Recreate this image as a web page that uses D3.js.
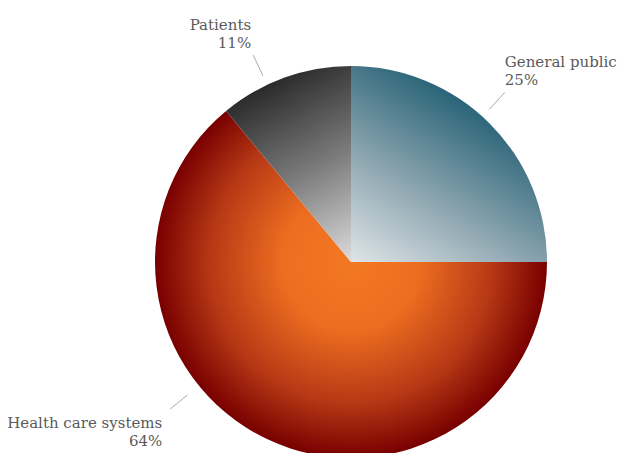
<!DOCTYPE html>
<html>
<head>
<meta charset="utf-8">
<script src="https://cdn.jsdelivr.net/npm/d3@7"></script>
<style>
  html, body { margin: 0; padding: 0; background: #fff; }
  svg text { font-family: "DejaVu Serif", serif; }
</style>
</head>
<body>
<svg id="chart" width="619" height="453"></svg>
<script>
const categories = ["General public", "Health care systems", "Patients"];
const shares = [25, 64, 11];

const width = 619;
const height = 453;
const cx = 351, cy = 262, radius = 196;

const svg = d3.select("#chart");
const defs = svg.append("defs");

// gradients: linear for the two small slices, radial for the big one
const gradSpecs = [
  { type: "linear", dir: 58, stops: [[0, "#dfe5e8"], [0.45, "#93aab4"], [1, "#2a6478"]] },
  { type: "radial", stops: [[0, "#f47823"], [0.35, "#ed6d20"], [0.72, "#b63815"], [1, "#780000"]] },
  { type: "linear", dir: 118, stops: [[0, "#dcdcdc"], [0.5, "#7d7d7d"], [1, "#2b2b2b"]] }
];

gradSpecs.forEach((s, i) => {
  let grad;
  if (s.type === "radial") {
    grad = defs.append("radialGradient")
      .attr("id", "g" + i)
      .attr("gradientUnits", "userSpaceOnUse")
      .attr("cx", 0).attr("cy", 0).attr("r", radius);
  } else {
    const a = s.dir * Math.PI / 180;
    grad = defs.append("linearGradient")
      .attr("id", "g" + i)
      .attr("gradientUnits", "userSpaceOnUse")
      .attr("x1", 0).attr("y1", 0)
      .attr("x2", radius * Math.cos(a)).attr("y2", -radius * Math.sin(a));
  }
  s.stops.forEach(st => grad.append("stop").attr("offset", st[0]).attr("stop-color", st[1]));
});

const pie = d3.pie().sort(null).value(d => d)(shares);
const arc = d3.arc().innerRadius(0).outerRadius(radius);

const g = svg.append("g").attr("transform", `translate(${cx},${cy})`);

g.selectAll("path.slice")
  .data(pie)
  .join("path")
  .attr("class", "slice")
  .attr("d", arc)
  .attr("fill", (d, i) => `url(#g${i})`);

// labels with connector lines
const r1 = radius + 10, r2 = radius + 33;
const bottomLimit = height - 44 - cy;
// small angular nudges (degrees) so labels sit clear of each other / the edge
const labelNudge = [-2.8, 0, -5.5];

pie.forEach((d, i) => {
  let a = (d.startAngle + d.endAngle) / 2 + labelNudge[i] * Math.PI / 180;
  let rr1 = r1, rr2 = r2;
  // push labels that would fall off the bottom up along the circle
  if (-Math.cos(a) * r2 > bottomLimit) {
    rr1 += 5; rr2 += 4;
    const alt = Math.acos(-bottomLimit / rr2);
    a = Math.sin(a) < 0 ? 2 * Math.PI - alt : alt;
  }
  const p1 = [Math.sin(a) * rr1, -Math.cos(a) * rr1];
  const p2 = [Math.sin(a) * rr2, -Math.cos(a) * rr2];

  g.append("line")
    .attr("x1", p1[0]).attr("y1", p1[1])
    .attr("x2", p2[0]).attr("y2", p2[1])
    .attr("stroke", "#aaa")
    .attr("stroke-width", 1);

  const right = Math.sin(a) > 0;
  const upper = p2[1] < 0;
  const tx = right ? p2[0] : p2[0] - (upper ? 2 : 8);
  const base = upper ? p2[1] - 7 - 18 : p2[1] + 19;

  const t = g.append("text")
    .attr("text-anchor", right ? "start" : "end")
    .attr("fill", "#5a5a5a")
    .style("font-size", "15px");
  t.append("tspan").attr("x", tx).attr("y", base).text(categories[i]);
  t.append("tspan").attr("x", tx).attr("y", base + 18).text(shares[i] + "%");
});
</script>
</body>
</html>
